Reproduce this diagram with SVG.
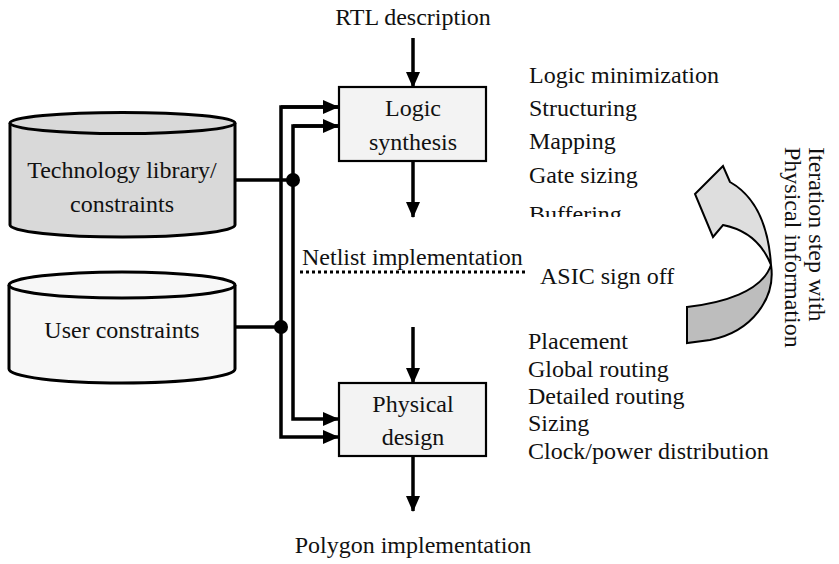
<svg xmlns="http://www.w3.org/2000/svg" width="839" height="564" viewBox="0 0 839 564">
  <style>
    .mid { text-anchor: middle; }
    .cyl { stroke: #000; stroke-width: 3; }
    .box { fill: #f3f3f3; stroke: #000; stroke-width: 2.2; }
    .wire { fill: none; stroke: #000; stroke-width: 3.5; }
    .dot { fill: #000; }
  </style>
  <defs>
    <marker id="arrow" viewBox="0 0 16 14" refX="15" refY="7" markerWidth="16" markerHeight="14" markerUnits="userSpaceOnUse" orient="auto">
      <path d="M0,0 L16,7 L0,14 Z" fill="#000"/>
    </marker>
    <clipPath id="cut-list">
      <rect x="500" y="40" width="250" height="177"/>
    </clipPath>
  </defs>

  <rect width="839" height="564" fill="#fff"/>

  <g font-family="Liberation Serif, Tinos, Times New Roman, serif" font-size="24" fill="#111">
  <!-- Flow labels -->
  <text class="mid" x="413" y="25">RTL description</text>
  <text class="mid" x="413" y="553">Polygon implementation</text>
  <text x="302" y="265">Netlist implementation</text>
  <line x1="300" y1="272" x2="528" y2="272" stroke="#000" stroke-width="3" stroke-dasharray="3,3"/>
  <text x="540" y="284">ASIC sign off</text>

  <!-- Database: technology library -->
  <g id="tech-library">
    <path class="cyl" fill="#d9d9d9" d="M10,123 L10,225 A112.5,12 0 0 0 235,225 L235,123 A112.5,10.5 0 0 0 10,123 Z"/>
    <path class="cyl" fill="none" d="M10,123 A112.5,10.5 0 0 0 235,123"/>
    <text class="mid" x="122" y="178">Technology library/</text>
    <text class="mid" x="122" y="212">constraints</text>
  </g>

  <!-- Database: user constraints -->
  <g id="user-constraints">
    <path class="cyl" fill="#f7f7f7" d="M9,285 L9,369 A113,14 0 0 0 235,369 L235,285 A113,13 0 0 0 9,285 Z"/>
    <path class="cyl" fill="none" d="M9,285 A113,13 0 0 0 235,285"/>
    <text class="mid" x="122" y="338">User constraints</text>
  </g>

  <!-- Process steps -->
  <g id="logic-synthesis">
    <rect class="box" x="339" y="87" width="147" height="74"/>
    <text class="mid" x="413" y="116">Logic</text>
    <text class="mid" x="413" y="150">synthesis</text>
  </g>
  <g id="physical-design">
    <rect class="box" x="339" y="383" width="147" height="73"/>
    <text class="mid" x="413" y="412">Physical</text>
    <text class="mid" x="413" y="445">design</text>
  </g>

  <!-- Task lists -->
  <g id="logic-tasks">
    <text x="529" y="83">Logic minimization</text>
    <text x="529" y="116">Structuring</text>
    <text x="529" y="149">Mapping</text>
    <text x="529" y="183">Gate sizing</text>
    <text x="529" y="222" clip-path="url(#cut-list)">Buffering</text>
  </g>
  <g id="physical-tasks">
    <text x="528" y="349">Placement</text>
    <text x="528" y="377">Global routing</text>
    <text x="528" y="404">Detailed routing</text>
    <text x="528" y="431">Sizing</text>
    <text x="528" y="459">Clock/power distribution</text>
  </g>

  <!-- Iteration loop: twisted ribbon arrow -->
  <g id="iteration">
    <path d="M771,265 C776,298 752,332 710,340 L687,343 L687,307 C722,303 762,292 771,265 Z" fill="#bdbdbd" stroke="#000" stroke-width="2"/>
    <path d="M695,194 L723,166 L730,182 Q767,203 771,265 Q758,232 723,225 L713,237 Z" fill="#dedede" stroke="#000" stroke-width="2"/>
    <g transform="translate(809,147) rotate(90)">
      <text x="0" y="0">Iteration step with</text>
      <text x="0" y="24">Physical information</text>
    </g>
  </g>
  </g>

  <!-- Connectors -->
  <g id="connectors">
    <line class="wire" x1="413" y1="38" x2="413" y2="87" marker-end="url(#arrow)"/>
    <line class="wire" x1="413" y1="161" x2="413" y2="217" marker-end="url(#arrow)"/>
    <line class="wire" x1="413" y1="327" x2="413" y2="383" marker-end="url(#arrow)"/>
    <line class="wire" x1="413" y1="456" x2="413" y2="511" marker-end="url(#arrow)"/>

    <!-- technology library bus -->
    <line class="wire" x1="235" y1="180" x2="293" y2="180"/>
    <polyline class="wire" points="338,126 293,126 293,419 338,419" marker-end="url(#arrow)"/>
    <line class="wire" x1="293" y1="126" x2="338" y2="126" marker-end="url(#arrow)"/>
    <circle class="dot" cx="293" cy="180" r="7"/>

    <!-- user constraints bus -->
    <line class="wire" x1="235" y1="327" x2="281" y2="327"/>
    <polyline class="wire" points="338,107 281,107 281,437 338,437" marker-end="url(#arrow)"/>
    <line class="wire" x1="281" y1="107" x2="338" y2="107" marker-end="url(#arrow)"/>
    <circle class="dot" cx="281" cy="327" r="7"/>
  </g>
</svg>
